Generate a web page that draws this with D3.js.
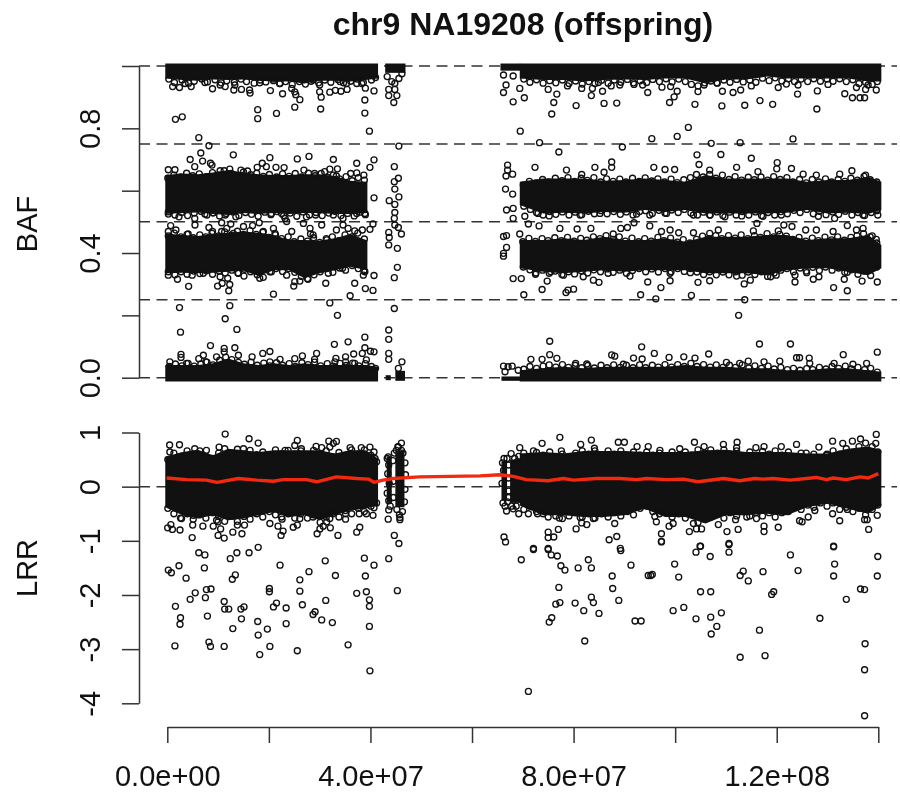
<!DOCTYPE html>
<html>
<head>
<meta charset="utf-8">
<script src="https://cdn.jsdelivr.net/npm/d3@7"></script>
<style>
  html, body { margin: 0; padding: 0; background: #fff; }
  svg { display: block; filter: blur(0.35px); }
  text { font-family: "Liberation Sans", Arial, sans-serif; fill: #111; }
</style>
</head>
<body>
<div id="wrapper"></div>
<script>
// positions are in Mb along chr9, the axis labels show them in bp
const xTicks = [0, 20, 40, 60, 80, 100, 120, 140];
const xTickLabels = ["0.0e+00", "", "4.0e+07", "", "8.0e+07", "", "1.2e+08", ""];
const bafTicks = [0, 0.2, 0.4, 0.6, 0.8, 1];
const bafTickLabels = ["0.0", "", "0.4", "", "0.8", ""];
const lrrTicks = [1, 0, -1, -2, -3, -4];
const lrrTickLabels = ["1", "0", "-1", "-2", "-3", "-4"];
const bafGuides = [0, 0.25, 0.5, 0.75, 1];
const lrrGuides = [0];

// The core of each cloud is so overplotted that it reads as solid black,
// so it is kept as the visible outline (x, top, bottom).
// The single rings that can be told apart are in the point lists further down.
const leftX = [-0.4, 3, 6, 9, 12, 15, 18, 21, 24, 27, 30, 33, 36, 39, 41.5];
const leftInnerX = [-0.4, 3, 6, 9, 12, 15, 18, 21, 24, 27, 30, 33, 36, 39.4];
const rightX = [69.4, 74, 78, 82, 86, 90, 94, 98, 102, 106, 110, 114, 118, 122, 126, 130, 134, 138, 140.6];

const bafHomTopLeftLow = [.960, .955, .953, .957, .955, .957, .953, .950, .950, .944, .953, .953, .950, .955, .960];
const bafHomBotLeftHigh = [.041, .041, .041, .046, .062, .046, .041, .046, .041, .046, .041, .041, .041, .041, .035];
const baf6LeftTop = [.650, .655, .653, .658, .666, .658, .653, .650, .650, .653, .653, .647, .632, .629];
const baf6LeftBot = [.525, .528, .530, .525, .522, .528, .525, .528, .525, .528, .528, .525, .525, .528];
const baf4LeftTop = [.463, .458, .455, .461, .465, .469, .465, .458, .442, .442, .440, .447, .461, .440];
const baf4LeftBot = [.335, .337, .335, .337, .340, .343, .326, .345, .345, .319, .335, .345, .356, .345];

const bafHomTopRightLow = [.960, .955, .955, .950, .955, .957, .955, .960, .960, .944, .957, .957, .966, .960, .960, .960, .960, .950, .950];
const bafHomBotRightHigh = [.024, .030, .035, .030, .035, .035, .035, .035, .041, .035, .035, .030, .030, .024, .024, .030, .030, .024, .019];
const baf6RightTop = [.629, .639, .639, .639, .632, .634, .639, .634, .629, .650, .639, .639, .639, .639, .629, .634, .634, .645, .629];
const baf6RightBot = [.554, .527, .529, .527, .532, .529, .538, .532, .538, .527, .527, .527, .527, .529, .538, .527, .529, .525, .538];
const baf4RightTop = [.442, .442, .447, .442, .452, .442, .442, .447, .436, .452, .452, .452, .458, .458, .442, .447, .447, .458, .426];
const baf4RightBot = [.351, .340, .335, .340, .345, .340, .345, .345, .345, .335, .335, .335, .329, .345, .351, .351, .340, .329, .351];

const lrrLeftTop = [.55, .64, .68, .58, .70, .67, .64, .67, .67, .67, .67, .61, .67, .67, .52];
const lrrLeftBot = [-.38, -.53, -.59, -.53, -.62, -.59, -.53, -.47, -.56, -.53, -.62, -.53, -.44, -.41, -.35];
const lrrRightTop = [.61, .64, .61, .66, .66, .66, .64, .64, .64, .67, .68, .64, .64, .64, .61, .61, .70, .74, .67];
const lrrRightBot = [-.35, -.53, -.53, -.56, -.56, -.53, -.41, -.56, -.56, -.68, -.53, -.53, -.50, -.53, -.38, -.31, -.41, -.50, -.35];

// short stretches beside the centromere gap: x0, x1, top, bottom
const bafStrips = [
  [42.9, 46.9, 1.008, .978], [43, 44, .008, -.008], [44.9, 46.8, .022, -.010],
  [65.6, 69.5, 1.008, .985], [65.8, 69.5, .004, -.010]
];
const lrrStrips = [[43.2, 44.2, .56, -.30], [44.9, 46.7, .66, -.38], [65.8, 66.9, .46, -.26], [67.5, 69.5, .50, -.30]];

const bafPointsLeft = [
  [1.6,.829],[2.95,.837],[17.8,.860],[17.8,.831],[21.5,.848],[25.1,.868],[30.2,.862],[38.9,.849],[38.9,.891],[39.8,.791],
  [26.1,.892],[25.3,.908],[22.7,.911],[20.3,.921],[30.3,.900],[40.7,.920],[39,.929],[32,.916],[33.1,.922],[34.2,.919],
  [35.4,.925],[16.3,.913],[14.6,.925],[13.1,.923],[8.9,.927],[11.4,.934],[1.05,.934],[2.4,.931],[4.7,.934],[3.5,.944],
  [16.2,.923],[7.4,.947],[10.4,.939],[13.3,.939],[18.2,.946],[20.9,.953],[22.2,.944],[24.5,.928],[25.1,.917],[30,.917],
  [30,.939],[28.7,.955],[34,.950],[35.3,.944],[37.3,.944],[38.3,.944],
  [43.6,.925],[43.6,.905],[44.6,.883],[44.8,.925],[44.8,.944],[43.3,.966],[45.6,.960],[46.2,.975],[44.2,.950],[45.2,.905],
  [6.2,.770],[8.2,.744],[6.6,.721],[4.5,.700],[6.95,.695],[8.5,.688],[8.8,.682],[5.4,.677],[13,.715],[20.2,.706],
  [18.7,.688],[17.7,.675],[19.5,.677],[21.4,.675],[23,.674],[25.6,.702],[27.9,.710],[32.7,.700],[32,.669],[33.5,.670],
  [37.3,.688],[40.7,.699],[39.9,.675],[.2,.667],[1.5,.667],[10.4,.664],[12.3,.669],[14.5,.666],[15.8,.663],[26.9,.666],
  [29,.655],[31,.661],[33.3,.647],[36.1,.655],[37.3,.657],[38.7,.650],[40.7,.577],
  [45.6,.743],[44.7,.677],[44.7,.629],[44.8,.605],[43.7,.568],[44.8,.556],[44.8,.530],[44.7,.511],[45.5,.640],[45.6,.580],
  [.2,.525],[2.3,.516],[5.4,.511],[7.4,.525],[9.05,.529],[11.4,.522],[13.5,.516],[20.5,.527],[22.5,.527],[23.2,.511],
  [27.4,.516],[29.2,.522],[32.7,.522],[34.6,.511],[37.3,.527],[38.9,.527],
  [.66,.488],[5.45,.490],[.2,.469],[1.7,.474],[4.1,.461],[8.2,.482],[8.9,.469],[10.7,.469],[11.7,.479],[10.7,.497],
  [12.5,.493],[15,.485],[16.8,.488],[18.1,.497],[18.9,.469],[20.9,.479],[21.2,.463],[24.5,.469],[28.1,.479],[28.2,.461],
  [28.7,.458],[30.4,.490],[33.3,.474],[34.6,.490],[35.6,.479],[36.9,.471],[38.4,.474],[39.9,.476],[40.5,.493],[31.4,.442],
  [26.8,.495],[23.5,.501],[13,.463],
  [43.6,.466],[43.7,.450],[43.6,.426],[45.3,.415],[46.1,.461],[45.5,.482],[44.8,.490],[45.3,.354],[44.7,.321],[44.7,.222],
  [43.6,.153],[43.6,.123],[43.6,.078],[43.6,.059],[46.2,.051],[45.5,.030],
  [.2,.329],[2,.316],[4.2,.293],[4.9,.329],[7.1,.335],[9.9,.294],[10.8,.303],[12.1,.279],[12.3,.299],[10.4,.324],
  [11.9,.319],[15.1,.326],[14,.335],[18.2,.319],[20.9,.268],[20.5,.340],[24.9,.294],[25.1,.308],[26.1,.310],[27.7,.316],
  [23.5,.329],[31.2,.303],[31.7,.335],[34.5,.351],[36,.263],[36.9,.303],[39,.286],[40.5,.280],[40.7,.328],[38.6,.329],[38.7,.343],
  [2.4,.225],[12.3,.231],[32,.240],[11.4,.189],[33.5,.200],[13.7,.155],[2.6,.146],
  [38.9,.130],[35.6,.115],[32.9,.107],[8.5,.103],[13.3,.096],[11.2,.094],[11.2,.083],[2.7,.075],[2.7,.065],[20.2,.084],
  [18.8,.078],[29.4,.078],[26.6,.070],[9.7,.067],[7.1,.072],[6.2,.061],[14,.072],[16.7,.067],[38.9,.096],[40,.085],
  [40.7,.083],[36.7,.076],[38.4,.078],[35.1,.067],[33.2,.062],[39.2,.057],[22.2,.059],[25.1,.061],[29,.059],[.5,.051],
  [3.8,.046],[7.6,.051],[20.2,.051],[35.1,.051],[36.9,.046],[33,.051]
];

// rings sitting on the rim of the solid cores, estimated by eye
const bafRimLeft = [
  [.3,.958],[1.4,.947],[2.9,.955],[4.2,.945],[5.3,.951],[6.8,.958],[7.9,.949],[9.4,.956],[10.6,.946],[11.7,.953],[13.2,.948],[14.5,.958],[15.6,.950],[17.1,.945],[18.3,.955],[19.4,.949],[20.8,.958],[22.1,.944],[23.3,.950],[24.6,.941],[26,.950],[27.2,.942],[28.3,.951],[29.8,.946],[31,.955],[32.2,.948],[33.6,.957],[34.7,.946],[36.1,.951],[37.4,.958],[38.6,.947],[40.2,.955],[41,.963],
  [.1,.640],[1.3,.650],[2.6,.644],[3.8,.656],[5,.648],[6.3,.654],[7.7,.645],[8.9,.658],[10.1,.650],[11.2,.664],[12.6,.655],[13.9,.647],[15,.660],[16.4,.651],[17.6,.656],[18.9,.646],[20.1,.652],[21.5,.644],[22.7,.654],[24,.646],[25.2,.655],[26.4,.644],[27.8,.656],[29.1,.648],[30.3,.655],[31.5,.643],[32.7,.650],[33.9,.638],[35.2,.645],[36.4,.632],[37.6,.642],[38.8,.634],
  [.2,.532],[1.5,.522],[2.8,.530],[4,.520],[5.3,.528],[6.6,.534],[7.8,.522],[9,.529],[10.3,.519],[11.6,.527],[12.9,.532],[14.1,.520],[15.4,.530],[16.6,.524],[17.9,.518],[19.2,.531],[20.4,.523],[21.6,.533],[22.9,.520],[24.2,.528],[25.5,.518],[26.7,.532],[28,.522],[29.3,.530],[30.5,.520],[31.8,.528],[33,.534],[34.2,.520],[35.5,.527],[36.8,.519],[38,.531],[39,.523],
  [.2,.455],[1.4,.464],[2.7,.452],[3.9,.460],[5.1,.449],[6.4,.458],[7.6,.452],[8.8,.463],[10.1,.455],[11.3,.468],[12.6,.457],[13.8,.470],[15,.460],[16.3,.472],[17.5,.460],[18.8,.466],[20,.450],[21.3,.458],[22.5,.446],[23.8,.452],[25,.436],[26.3,.445],[27.6,.438],[28.8,.449],[30,.434],[31.3,.446],[32.5,.452],[33.8,.440],[35,.458],[36.3,.452],[37.5,.464],[38.8,.445],
  [.2,.340],[1.5,.330],[2.7,.340],[3.9,.332],[5.2,.342],[6.4,.334],[7.7,.343],[8.9,.332],[10.2,.342],[11.4,.336],[12.7,.345],[13.9,.336],[15.2,.348],[16.4,.340],[17.7,.330],[18.9,.322],[20.2,.340],[21.4,.350],[22.7,.341],[23.9,.350],[25.1,.338],[26.4,.325],[27.6,.318],[28.9,.330],[30.1,.340],[31.4,.350],[32.6,.338],[33.9,.352],[35.1,.345],[36.4,.360],[37.6,.350],[38.9,.340],
  [.4,.036],[1.6,.044],[2.9,.038],[4.1,.046],[5.3,.037],[6.6,.044],[7.8,.050],[9,.041],[10.3,.056],[11.5,.066],[12.7,.058],[14,.049],[15.2,.043],[16.5,.050],[17.7,.040],[19,.047],[20.2,.038],[21.5,.048],[22.7,.040],[24,.045],[25.2,.036],[26.5,.048],[27.7,.042],[29,.050],[30.2,.038],[31.5,.045],[32.7,.037],[34,.046],[35.2,.039],[36.5,.047],[37.7,.038],[39,.045],[40.2,.036],[41,.030]
];

const bafPointsRight = [
  [66.2,.915],[66.2,.971],[68.1,.885],[66.7,.939],[68.1,.968],[69.4,.928],[70.3,.898],[69.5,.791],[75.7,.846],[76.1,.883],
  [76.7,.910],[75,.925],[78.8,.936],[80.5,.873],[81.6,.928],[83.5,.905],[83.7,.928],[85.7,.919],[86,.880],[88.5,.881],
  [87.4,.936],[84.9,.947],[89.1,.939],[91.9,.941],[93.6,.939],[94.6,.915],[97.4,.932],[99.1,.934],[100.4,.919],[99.8,.901],
  [98.9,.883],[103.9,.877],[104.5,.918],[105.7,.939],[108.2,.946],[109.3,.919],[109.2,.872],[111.4,.915],[112.9,.923],[113.7,.874],
  [115,.936],[116.7,.889],[119.2,.877],[120.3,.931],[121.9,.942],[124.1,.910],[124.2,.939],[128,.920],[127.9,.862],[130.1,.941],
  [133.4,.911],[134.9,.898],[136.4,.898],[137.3,.898],[137.5,.925],[135.7,.931],[139.6,.923],[138,.939],
  [73.3,.754],[77.1,.724],[89.6,.740],[95.4,.767],[100.4,.774],[102.6,.803],[107.1,.752],[112.8,.754],[123.2,.766],[104.3,.715],
  [109,.716],[115,.704],[120.1,.690],[120,.670],[122.9,.671],[112.1,.675],[84.2,.675],[87.5,.692],[87.5,.675],[72.4,.675],
  [104.7,.684],[95.8,.675],[98,.668],[99.9,.668],[106.8,.666],[116.3,.661],[78.6,.666],[86,.659],[134.8,.664],[137.5,.650],
  [127.8,.650],[132.4,.653],[81.6,.652],[125.2,.653],
  [67,.682],[67,.666],[66.7,.647],[68,.653],[66.6,.605],[68,.589],[66.8,.538],[68.1,.543],[68.1,.511],
  [70.4,.518],[73,.527],[75.2,.519],[81.3,.522],[85.2,.527],[92.4,.525],[95,.522],[98.3,.527],[103.6,.522],[106.8,.522],
  [109.8,.516],[113.1,.519],[117.3,.518],[120.9,.522],[128.2,.518],[131.4,.511],[137,.522],[139.8,.538],[139.9,.522],
  [66.2,.453],[66.8,.456],[66.8,.418],[66.2,.399],[66.2,.390],[69.4,.461],[68.1,.318],[69.7,.318],[70.2,.266],[73.8,.283],
  [74.8,.310],[78.5,.273],[78.9,.281],[80,.284],[85,.306],[83.9,.313],[72.5,.332],[75.5,.340],[78,.329],[81.9,.324],
  [86.8,.335],[91.1,.326],[94.6,.307],[97.2,.289],[99,.311],[93.2,.266],[96.2,.253],[103.2,.264],[104.5,.306],[106.8,.311],
  [113.6,.301],[113.7,.250],[112.5,.200],[114.8,.313],[118.8,.324],[123.6,.307],[127.2,.316],[128.3,.324],[131.2,.289],[133.3,.316],
  [133.9,.279],[136.8,.310],[139.8,.307],[133.9,.338],[123.6,.329],[125.9,.337],[99,.335],[103,.337],[112.1,.326],[119.9,.329],
  [71.1,.493],[73.2,.487],[77.3,.479],[80.7,.477],[83.4,.479],[89.3,.479],[90.6,.482],[91.9,.497],[95,.487],[97.3,.469],
  [99,.474],[100.7,.465],[103.6,.465],[106.8,.463],[108.5,.474],[116.1,.495],[121.4,.490],[123,.485],[125.7,.474],[127.8,.474],
  [131.1,.469],[133.9,.488],[135.7,.474],[137,.479],[138.8,.455],[139.6,.444],[87.8,.461],[115.4,.471],[120.3,.471],
  [75.3,.117],[116.6,.108],[122.7,.108],[93.4,.099],[139.8,.082],[95.9,.078],[106.6,.076],[133.1,.074],[87.5,.073],[88.1,.069],
  [75.3,.074],[98.8,.065],[91.8,.063],[93.5,.060],[101.7,.067],[103.9,.063],[123.9,.064],[124.5,.064],[126.4,.063],[71.6,.059],
  [73.8,.059],[76.7,.062],[114.4,.053],[120.6,.053],[117.5,.051],[126.5,.046],[137.7,.046],[131.3,.046],[135,.043],[66.2,.037],
  [67.9,.037],[67.1,.035],[66.5,.019],[69.1,.024],[80.4,.046],[82.6,.044],[89.8,.043],[110.1,.049],[112.7,.046]
];

const bafRimRight = [
  [70.2,.958],[71.4,.948],[72.7,.956],[74,.945],[75.3,.953],[76.5,.946],[77.8,.955],[79.1,.944],[80.4,.952],[81.7,.942],[83,.950],[84.2,.944],[85.5,.954],[86.8,.945],[88,.955],[89.3,.948],[90.6,.957],[91.8,.946],[93.1,.953],[94.4,.947],[95.6,.957],[96.9,.950],[98.2,.959],[99.4,.949],[100.7,.958],[102,.950],[103.2,.941],[104.5,.936],[105.8,.946],[107,.952],[108.3,.945],[109.6,.955],[110.8,.948],[112.1,.957],[113.4,.949],[114.7,.955],[115.9,.948],[117.2,.961],[118.5,.953],[119.7,.962],[121,.952],[122.3,.959],[123.5,.950],[124.8,.958],[126.1,.950],[127.3,.959],[128.6,.951],[129.9,.958],[131.1,.951],[132.4,.959],[133.7,.950],[135,.956],[136.2,.944],[137.5,.948],[138.8,.941],[139.8,.950],
  [70.1,.618],[71.3,.630],[72.6,.625],[73.9,.636],[75.1,.628],[76.4,.640],[77.7,.632],[78.9,.642],[80.2,.630],[81.5,.640],[82.7,.633],[84,.642],[85.3,.628],[86.5,.638],[87.8,.630],[89.1,.637],[90.3,.628],[91.6,.640],[92.9,.630],[94.1,.641],[95.4,.631],[96.6,.638],[97.9,.628],[99.2,.637],[100.4,.626],[101.7,.635],[103,.642],[104.2,.652],[105.5,.644],[106.8,.652],[108,.640],[109.3,.650],[110.6,.636],[111.8,.645],[113.1,.634],[114.4,.643],[115.6,.635],[116.9,.644],[118.2,.634],[119.4,.645],[120.7,.636],[122,.642],[123.2,.628],[124.5,.636],[125.8,.625],[127,.636],[128.3,.628],[129.6,.638],[130.8,.628],[132.1,.636],[133.4,.630],[134.6,.640],[135.9,.634],[137.2,.646],[138.4,.635],[139.7,.628],
  [70.2,.550],[71.5,.540],[72.7,.530],[74,.522],[75.3,.533],[76.5,.524],[77.8,.532],[79.1,.522],[80.3,.531],[81.6,.523],[82.9,.534],[84.1,.526],[85.4,.536],[86.6,.526],[87.9,.533],[89.2,.524],[90.4,.532],[91.7,.522],[93,.533],[94.2,.536],[95.5,.527],[96.8,.537],[98,.528],[99.3,.538],[100.6,.530],[101.8,.540],[103.1,.528],[104.4,.522],[105.6,.531],[106.9,.522],[108.2,.532],[109.4,.520],[110.7,.531],[112,.522],[113.2,.533],[114.5,.522],[115.8,.532],[117,.520],[118.3,.530],[119.6,.522],[120.8,.533],[122.1,.526],[123.4,.537],[124.6,.530],[125.9,.540],[127.2,.526],[128.4,.534],[129.7,.523],[131,.532],[132.2,.524],[133.5,.534],[134.8,.522],[136,.530],[137.3,.520],[138.6,.530],[139.7,.536],
  [70,.436],[71.2,.447],[72.5,.437],[73.8,.446],[75,.440],[76.3,.449],[77.6,.440],[78.8,.450],[80.1,.438],[81.4,.447],[82.6,.441],[83.9,.452],[85.2,.446],[86.4,.456],[87.7,.444],[89,.452],[90.2,.438],[91.5,.448],[92.8,.436],[94,.446],[95.3,.438],[96.6,.450],[97.8,.440],[99.1,.448],[100.4,.435],[101.6,.443],[102.9,.432],[104.2,.444],[105.4,.454],[106.7,.446],[108,.456],[109.2,.446],[110.5,.456],[111.8,.448],[113,.458],[114.3,.446],[115.6,.456],[116.8,.450],[118.1,.462],[119.4,.452],[120.6,.460],[121.9,.454],[123.2,.444],[124.4,.450],[125.7,.438],[127,.448],[128.2,.440],[129.5,.451],[130.8,.442],[132,.452],[133.3,.441],[134.6,.450],[135.8,.456],[137.1,.462],[138.4,.452],[139.7,.432],
  [70.1,.355],[71.4,.346],[72.6,.336],[73.9,.345],[75.2,.335],[76.4,.342],[77.7,.331],[79,.340],[80.2,.333],[81.5,.343],[82.8,.336],[84,.346],[85.3,.340],[86.6,.349],[87.8,.338],[89.1,.345],[90.4,.335],[91.6,.344],[92.9,.350],[94.2,.340],[95.4,.349],[96.7,.339],[98,.350],[99.2,.340],[100.5,.350],[101.8,.341],[103,.350],[104.3,.339],[105.6,.331],[106.8,.340],[108.1,.330],[109.4,.339],[110.6,.330],[111.9,.340],[113.2,.329],[114.4,.339],[115.7,.331],[117,.340],[118.2,.325],[119.5,.336],[120.8,.345],[122,.350],[123.3,.340],[124.6,.352],[125.8,.342],[127.1,.354],[128.4,.344],[129.6,.355],[130.9,.345],[132.2,.352],[133.4,.338],[134.7,.346],[136,.332],[137.2,.342],[138.5,.328],[139.7,.355],
  [70.2,.027],[71.4,.036],[72.7,.030],[74,.037],[75.2,.041],[76.5,.034],[77.8,.042],[79,.033],[80.3,.040],[81.6,.032],[82.8,.039],[84.1,.031],[85.4,.040],[86.6,.032],[87.9,.041],[89.2,.033],[90.4,.040],[91.7,.032],[93,.041],[94.2,.032],[95.5,.040],[96.7,.034],[98,.042],[99.3,.034],[100.5,.042],[101.8,.036],[103.1,.046],[104.3,.036],[105.6,.042],[106.9,.034],[108.1,.041],[109.4,.033],[110.7,.040],[111.9,.033],[113.2,.041],[114.5,.031],[115.7,.038],[117,.030],[118.3,.037],[119.5,.028],[120.8,.033],[122.1,.026],[123.3,.030],[124.6,.024],[125.9,.029],[127.1,.026],[128.4,.033],[129.7,.028],[130.9,.036],[132.2,.030],[133.5,.037],[134.7,.028],[136,.033],[137.3,.026],[138.5,.030],[139.8,.018]
];

const lrrPointsLeft = [
  [11.4,.97],[16.1,.885],[.46,.77],[2.4,.774],[5.4,.70],[10.2,.73],[17.9,.805],[25.6,.854],[25.1,.76],[23.2,.67],
  [29.3,.743],[30.4,.72],[31.8,.84],[33.3,.835],[32.7,.80],[32,.73],[36,.72],[38.2,.72],[39.9,.73],[40.7,.64],
  [46.1,.805],[45.1,.67],[46.1,.67],[40.9,.52],[.5,.64],[15,.70],[7.7,.67],[26.4,.70],[43.5,.55],[45.5,.73],
  [.07,-.76],[.7,-.70],[1,-.79],[2.5,-.80],[4.9,-.94],[5,-.71],[7,-.73],[9.05,-.73],[10,-.90],[11.2,-.95],
  [10.5,-.78],[10,-.65],[12.9,-.84],[14.7,-.87],[13.8,-.71],[15.2,-.71],[20.2,-.68],[21.8,-.73],[22.8,-.82],[22.4,-.90],
  [24.8,-.75],[25.6,-.71],[29.5,-.87],[30.05,-.78],[30.7,-.73],[32.1,-.76],[33.6,-.90],[37.3,-.84],[37.9,-.75],[35.1,-.60],
  [35.1,-.50],[32.7,-.44],[32,-.59],[37.8,-.50],[39.2,-.50],[40.5,-.53],[40.7,-.39],[43.5,-.60],[43.6,-.43],[45.8,-.57],
  [45.8,-.61],[44.7,-.90],[45.6,-1.05],[2.8,-.59],[5.1,-.53],[9.7,-.62],[26.1,-.59],[28.7,-.56],[22.5,-.56],[31.4,-.65],
  [43.6,-1.33],[40.7,-1.45],[38.8,-1.32],[39,-1.65],[39.2,-1.94],[37.3,-1.97],[39.8,-2.09],[39.8,-2.21],[39.8,-2.58],[35.6,-2.92],
  [39.9,-3.40],[45.3,-1.92],[33.1,-1.64],[31.1,-1.37],[27.9,-1.57],[26.1,-1.72],[26.1,-1.93],[22.2,-1.45],[31.2,-2.10],[26.6,-2.18],
  [23.4,-2.24],[21.5,-2.15],[20.9,-2.22],[20.1,-1.88],[20.1,-1.94],[17.9,-1.12],[16.1,-1.22],[13.7,-1.22],[12.4,-1.33],[13.4,-1.63],
  [12.8,-1.71],[6.2,-1.22],[7.4,-1.26],[2.3,-1.46],[.2,-1.54],[.8,-1.59],[3.7,-1.69],[7.3,-1.50],[7.7,-1.90],[8.6,-1.89],
  [5.5,-1.96],[4.5,-2.08],[7.5,-2.05],[1.6,-2.21],[2.6,-2.42],[2.5,-2.54],[7.9,-2.39],[11.2,-2.12],[11.3,-2.26],[12.1,-2.26],
  [14.5,-2.26],[15.1,-2.22],[14.6,-2.44],[12.9,-2.62],[17.8,-2.49],[19.7,-2.63],[17.9,-2.74],[1.5,-2.94],[8.2,-2.87],[8.5,-2.95],
  [11.2,-2.95],[20.2,-2.95],[18.2,-3.10],[25.6,-3.03],[23.4,-2.53],[29.1,-2.31],[28.7,-2.36],[30.4,-2.46],[32.5,-2.51],
  [43.3,.52],[43.6,.40],[43.4,.24],[43.7,.06],[43.3,-.12],[43.6,-.26],[44.4,.48],[44.5,.10],[44.5,-.20],[44.7,.62],
  [45.4,.74],[46.4,.62],[46.8,.44],[46.9,.22],[46.8,-.05],[46.7,-.28],[45.2,-.42],[46.3,-.46],[45.7,-.52],[43.9,-.36]
];

const lrrRimLeft = [
  [.1,.50],[1.3,.62],[2.6,.56],[3.9,.66],[5.1,.60],[6.4,.66],[7.6,.56],[8.9,.52],[10.1,.62],[11.3,.70],[12.6,.62],[13.8,.69],[15.1,.60],[16.3,.67],[17.6,.59],[18.8,.64],[20.1,.58],[21.3,.68],[22.6,.61],[23.8,.67],[25.1,.60],[26.3,.66],[27.6,.58],[28.8,.67],[30.1,.61],[31.3,.66],[32.6,.55],[33.8,.63],[35.1,.58],[36.3,.68],[37.6,.60],[38.8,.68],[40.1,.58],[41.2,.46],
  [.1,-.40],[1.3,-.50],[2.6,-.58],[3.9,-.50],[5.1,-.60],[6.4,-.52],[7.6,-.58],[8.9,-.48],[10.1,-.55],[11.3,-.64],[12.6,-.55],[13.8,-.64],[15.1,-.55],[16.3,-.60],[17.6,-.50],[18.8,-.56],[20.1,-.46],[21.3,-.52],[22.6,-.60],[23.8,-.50],[25.1,-.58],[26.3,-.50],[27.6,-.58],[28.8,-.52],[30.1,-.66],[31.3,-.56],[32.6,-.50],[33.8,-.56],[35.1,-.44],[36.3,-.50],[37.6,-.40],[38.8,-.46],[40.1,-.36],[41.2,-.30]
];

const lrrPointsRight = [
  [77.3,.91],[83.5,.86],[73.8,.80],[69.4,.72],[67.7,.61],[66.3,.52],[81.4,.78],[84.1,.71],[88.8,.82],[90,.82],
  [92.5,.74],[94.7,.74],[97,.67],[100.9,.70],[103.8,.82],[105.7,.74],[109.5,.78],[112.2,.82],[112.1,.72],[115.9,.72],
  [117.5,.74],[120.9,.74],[123.9,.78],[128.3,.73],[131,.84],[133,.80],[134.9,.84],[136.5,.88],[137.5,.805],[139.6,.965],
  [139.5,.80],[129.8,.58],[125.8,.62],[72.1,.66],[77.6,.66],
  [66.3,-.93],[66.6,-1.02],[66.8,-.45],[67,-.28],[68.1,-.41],[69.2,-.50],[71.1,-.50],[72.9,-.50],[75,-.56],[77.2,-.58],
  [77.8,-.59],[81.3,-.57],[80.5,-.78],[81.6,-.67],[82.6,-.70],[83.9,-.59],[75,-.84],[76.1,-.93],[75,-.94],[77,-.79],
  [72.1,-1.14],[75,-1.14],[87,-.98],[88.5,-.92],[88.1,-.68],[97.3,-.87],[97.3,-1.01],[96,-.55],[96.3,-.65],[98.8,-.73],
  [99.6,-.68],[102.8,-.83],[103.6,-.68],[104.2,-.78],[105.2,-.78],[108.5,-.70],[110.2,-.83],[112.4,-.79],[111.9,-.61],[114.1,-.56],
  [116,-.59],[117.5,-.73],[117.5,-.83],[120.3,-.75],[124.5,-.63],[125,-.65],[126.2,-.56],[127.5,-.44],[131,-.50],[132.4,-.63],
  [133.9,-.42],[137.3,-.61],[137.8,-.61],[138.1,-.79],[139.8,-.53],[139.8,-.28],[131.2,-1.10],[104.9,-1.10],[110.6,-1.05],[89.2,-1.14],
  [72.1,-1.16],[69.7,-1.35],[75,-1.16],[75.6,-1.26],[76.8,-1.28],[77.5,-1.46],[78.3,-1.54],[80.9,-1.50],[82.9,-1.35],[83.5,-1.50],
  [89.3,-1.18],[91.3,-1.45],[87.6,-1.65],[87.7,-1.88],[88.9,-2.10],[77.1,-1.86],[77.3,-2.14],[76.5,-2.17],[80.3,-2.15],[82,-2.29],
  [83.5,-2.04],[83.9,-2.14],[85,-2.34],[75.7,-2.42],[75.2,-2.50],[82.2,-2.85],[71.1,-3.78],[92.1,-2.48],[93.3,-2.48],[94.7,-1.64],
  [95.2,-1.64],[95.5,-1.62],[97.3,-1.02],[99.9,-1.43],[100.7,-1.67],[99.6,-2.29],[101.7,-2.23],[104.1,-1.21],[105,-1.10],[106.9,-1.29],
  [110.6,-1.07],[110.6,-1.21],[105,-1.94],[107,-1.94],[104.1,-2.44],[107,-2.41],[109.1,-2.33],[108.2,-2.58],[107.1,-2.72],[113.4,-1.56],
  [112.8,-1.64],[114.4,-1.74],[117.3,-1.57],[119.4,-1.94],[119,-1.99],[116.6,-2.65],[112.8,-3.15],[117.7,-3.12],[122.7,-1.26],[124.2,-1.55],
  [128.5,-2.43],[131.2,-1.11],[131.4,-1.43],[131.2,-1.65],[133.7,-2.08],[136.5,-1.89],[137.3,-1.90],[139.8,-1.65],[139.9,-1.29],[137.4,-2.90],
  [137.3,-3.38],[137.3,-4.23],
  [66,.44],[66.9,.52],[66.2,.30],[67.2,.40],[67.2,.16],[67.2,-.08],[67.2,-.20],[66.1,-.30],[66.5,-.36],[65.9,.06],
  [68.4,.52],[68.9,.46],[69.2,.56],[67.8,-.36],[68.7,-.36]
];

const lrrRimRight = [
  [70.2,.62],[71.4,.56],[72.7,.63],[74,.58],[75.3,.64],[76.5,.56],[77.8,.60],[79.1,.53],[80.4,.62],[81.7,.66],[83,.60],[84.2,.66],[85.5,.59],[86.8,.66],[88,.60],[89.3,.66],[90.6,.58],[91.8,.64],[93.1,.58],[94.4,.64],[95.6,.58],[96.9,.62],[98.2,.56],[99.4,.64],[100.7,.58],[102,.64],[103.2,.58],[104.5,.68],[105.8,.62],[107,.68],[108.3,.62],[109.6,.68],[110.8,.60],[112.1,.66],[113.4,.54],[114.7,.64],[115.9,.58],[117.2,.65],[118.5,.60],[119.7,.66],[121,.58],[122.3,.64],[123.5,.54],[124.8,.62],[126.1,.54],[127.3,.60],[128.6,.52],[129.9,.60],[131.1,.66],[132.4,.60],[133.7,.70],[135,.62],[136.2,.74],[137.5,.66],[138.8,.74],[139.9,.64],
  [70.2,-.42],[71.4,-.36],[72.7,-.46],[74,-.50],[75.3,-.46],[76.5,-.54],[77.8,-.46],[79.1,-.54],[80.4,-.48],[81.7,-.56],[83,-.50],[84.2,-.58],[85.5,-.50],[86.8,-.56],[88,-.48],[89.3,-.54],[90.6,-.46],[91.8,-.52],[93.1,-.40],[94.4,-.36],[95.6,-.46],[96.9,-.50],[98.2,-.46],[99.4,-.56],[100.7,-.50],[102,-.58],[103.2,-.50],[104.5,-.66],[105.8,-.60],[107,-.56],[108.3,-.50],[109.6,-.58],[110.8,-.48],[112.1,-.54],[113.4,-.46],[114.7,-.54],[115.9,-.48],[117.2,-.54],[118.5,-.48],[119.7,-.56],[121,-.48],[122.3,-.46],[123.5,-.36],[124.8,-.42],[126.1,-.34],[127.3,-.38],[128.6,-.30],[129.9,-.36],[131.1,-.30],[132.4,-.42],[133.7,-.38],[135,-.46],[136.2,-.40],[137.5,-.52],[138.8,-.42],[139.9,-.34]
];

// smoothed LRR, red line
const lrrSmooth = [
  [-.13,.16],[3.8,.13],[7.7,.12],[9.8,.08],[14,.15],[17.6,.12],[20.9,.10],[22.8,.13],[27.4,.13],[29.4,.09],
  [33.3,.18],[37.3,.15],[39.6,.14],[40.7,.08],[42.5,.12],[44.5,.15],[49.7,.18],[61.6,.20],[65.5,.22],[68.1,.19],
  [70.7,.13],[75,.11],[78,.15],[80,.12],[84.5,.15],[89.1,.15],[92.4,.13],[94.4,.15],[98.3,.13],[101.6,.14],
  [104.5,.09],[109.5,.15],[112.7,.11],[115.7,.15],[117.3,.14],[119.3,.15],[122.6,.12],[127.8,.17],[129.8,.13],[131.1,.16],
  [133.7,.13],[136.4,.18],[138,.16],[140,.24]
];

function drawChart() {
  const dimensions = {
    width: 900,
    height: 794,
    axisLeft: 139,
    guideRight: 897,
    xLeft: 167.3,
    xRight: 878.3,
    bafTop: 66,
    bafBottom: 377.7,
    lrrTop: 432.5,
    lrrBottom: 703.3,
    xAxisY: 727,
  };
  const inkColor = "#111";
  const axisColor = "#333";
  const fontSize = 29;

  const wrapper = d3.select("#wrapper")
    .append("svg")
    .attr("width", dimensions.width)
    .attr("height", dimensions.height);

  const xScale = d3.scaleLinear().domain([0, 140]).range([dimensions.xLeft, dimensions.xRight]);
  const bafScale = d3.scaleLinear().domain([0, 1]).range([dimensions.bafBottom, dimensions.bafTop]);
  const lrrScale = d3.scaleLinear().domain([-4, 1]).range([dimensions.lrrBottom, dimensions.lrrTop]);

  // dashed guides
  function addGuides(values, yScale) {
    wrapper.append("g").selectAll("line")
      .data(values)
      .enter()
      .append("line")
      .attr("x1", dimensions.axisLeft)
      .attr("x2", dimensions.guideRight)
      .attr("y1", d => yScale(d))
      .attr("y2", d => yScale(d))
      .attr("stroke", axisColor)
      .attr("stroke-width", 1.5)
      .attr("stroke-dasharray", "11 6.5");
  }
  addGuides(bafGuides, bafScale);
  addGuides(lrrGuides, lrrScale);

  // solid cores
  function addBand(xs, tops, bottoms, yScale) {
    const rows = xs.map((x, i) => ({ x, top: tops[i], bottom: bottoms[i] }));
    const area = d3.area()
      .x(d => xScale(d.x))
      .y0(d => yScale(d.bottom))
      .y1(d => yScale(d.top));
    wrapper.append("path").attr("d", area(rows)).attr("fill", inkColor);
  }
  const flat = (xs, v) => xs.map(() => v);
  addBand(leftX, flat(leftX, 1.008), bafHomTopLeftLow, bafScale);
  addBand(leftX, bafHomBotLeftHigh, flat(leftX, -0.012), bafScale);
  addBand(leftInnerX, baf6LeftTop, baf6LeftBot, bafScale);
  addBand(leftInnerX, baf4LeftTop, baf4LeftBot, bafScale);
  addBand(rightX, flat(rightX, 1.008), bafHomTopRightLow, bafScale);
  addBand(rightX, bafHomBotRightHigh, flat(rightX, -0.012), bafScale);
  addBand(rightX, baf6RightTop, baf6RightBot, bafScale);
  addBand(rightX, baf4RightTop, baf4RightBot, bafScale);
  addBand(leftX, lrrLeftTop, lrrLeftBot, lrrScale);
  addBand(rightX, lrrRightTop, lrrRightBot, lrrScale);
  bafStrips.forEach(s => addBand([s[0], s[1]], [s[2], s[2]], [s[3], s[3]], bafScale));
  lrrStrips.forEach(s => addBand([s[0], s[1]], [s[2], s[2]], [s[3], s[3]], lrrScale));

  // single rings
  function addPoints(points, yScale) {
    wrapper.append("g").selectAll("circle")
      .data(points)
      .enter()
      .append("circle")
      .attr("cx", d => xScale(d[0]))
      .attr("cy", d => yScale(d[1]))
      .attr("r", 3)
      .attr("fill", "none")
      .attr("stroke", inkColor)
      .attr("stroke-width", 1.35);
  }
  addPoints(bafPointsLeft, bafScale);
  addPoints(bafRimLeft, bafScale);
  addPoints(bafPointsRight, bafScale);
  addPoints(bafRimRight, bafScale);
  addPoints(lrrPointsLeft, lrrScale);
  addPoints(lrrRimLeft, lrrScale);
  addPoints(lrrPointsRight, lrrScale);
  addPoints(lrrRimRight, lrrScale);

  const smoothLine = d3.line()
    .x(d => xScale(d[0]))
    .y(d => lrrScale(d[1]));
  wrapper.append("path")
    .attr("d", smoothLine(lrrSmooth))
    .attr("fill", "none")
    .attr("stroke", "#f0290f")
    .attr("stroke-width", 3.4)
    .attr("stroke-linejoin", "round");

  // axes
  function addYAxis(yScale, ticks, labels) {
    const axis = d3.axisLeft(yScale)
      .tickValues(ticks)
      .tickSize(17)
      .tickSizeOuter(0)
      .tickFormat((d, i) => labels[i]);
    const g = wrapper.append("g")
      .attr("transform", `translate(${dimensions.axisLeft},0)`)
      .call(axis);
    g.selectAll("path, line").attr("stroke", axisColor).attr("stroke-width", 1.5);
    g.selectAll("text")
      .attr("x", 0)
      .attr("y", 0)
      .attr("dy", 0)
      .attr("text-anchor", "middle")
      .attr("transform", "translate(-39,0) rotate(-90)")
      .style("font-size", `${fontSize}px`)
      .style("font-family", "'Liberation Sans', Arial, sans-serif")
      .attr("fill", inkColor);
  }
  addYAxis(bafScale, bafTicks, bafTickLabels);
  addYAxis(lrrScale, lrrTicks, lrrTickLabels);

  const xAxis = d3.axisBottom(xScale)
    .tickValues(xTicks)
    .tickSize(16)
    .tickSizeOuter(0)
    .tickFormat((d, i) => xTickLabels[i]);
  const xAxisGroup = wrapper.append("g")
    .attr("transform", `translate(0,${dimensions.xAxisY})`)
    .call(xAxis);
  xAxisGroup.selectAll("path, line").attr("stroke", axisColor).attr("stroke-width", 1.5);
  xAxisGroup.selectAll("text")
    .attr("y", 59)
    .attr("dy", 0)
    .style("font-size", `${fontSize}px`)
    .style("font-family", "'Liberation Sans', Arial, sans-serif")
    .attr("fill", inkColor);

  // labels
  wrapper.append("text")
    .attr("x", 523)
    .attr("y", 35)
    .attr("text-anchor", "middle")
    .attr("font-weight", "bold")
    .attr("font-size", "32px")
    .text("chr9 NA19208 (offspring)");

  wrapper.append("text")
    .attr("transform", "translate(37,224) rotate(-90)")
    .attr("text-anchor", "middle")
    .attr("font-size", `${fontSize}px`)
    .text("BAF");

  wrapper.append("text")
    .attr("transform", "translate(37,568) rotate(-90)")
    .attr("text-anchor", "middle")
    .attr("font-size", `${fontSize}px`)
    .text("LRR");
}
drawChart();
</script>
</body>
</html>
